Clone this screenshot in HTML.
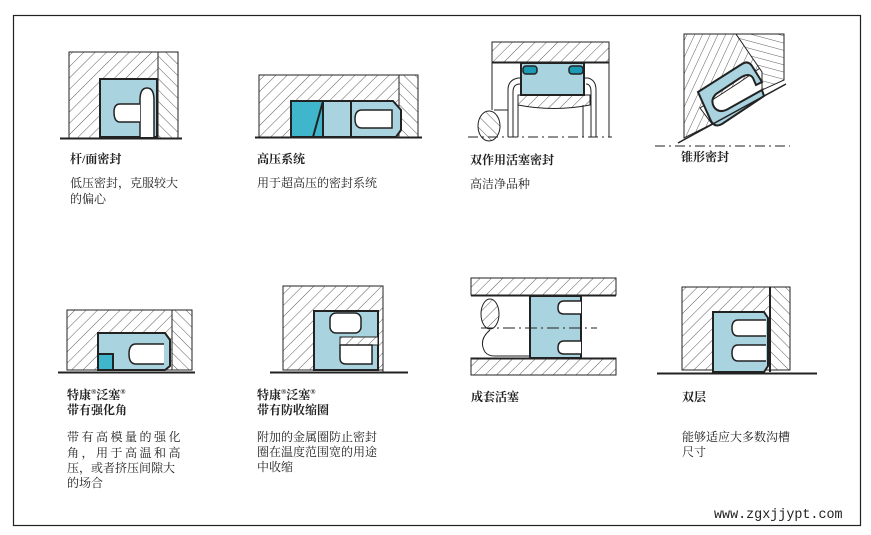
<!DOCTYPE html>
<html><head><meta charset="utf-8"><style>
html,body{margin:0;padding:0;background:#fff;width:871px;height:535px;overflow:hidden}
svg{display:block}
text{font-family:"Liberation Serif","Noto Serif CJK SC","Noto Sans CJK SC",serif;fill:#222}
.t{font-size:12px;font-weight:bold}
.d{font-size:12px}
</style></head><body>
<svg width="871" height="535" viewBox="0 0 871 535" xmlns="http://www.w3.org/2000/svg">
<defs>
<pattern id="h" patternUnits="userSpaceOnUse" width="8" height="8" patternTransform="rotate(45)">
<rect width="8" height="8" fill="#fff"/><line x1="0" y1="0" x2="0" y2="8" stroke="#333" stroke-width="0.8"/></pattern>
<pattern id="h2" patternUnits="userSpaceOnUse" width="8" height="8" patternTransform="rotate(-45)">
<rect width="8" height="8" fill="#fff"/><line x1="0" y1="0" x2="0" y2="8" stroke="#333" stroke-width="0.8"/></pattern>
<pattern id="h3" patternUnits="userSpaceOnUse" width="7" height="7" patternTransform="rotate(-75)">
<rect width="7" height="7" fill="#fff"/><line x1="0" y1="0" x2="0" y2="7" stroke="#333" stroke-width="0.8"/></pattern>
<pattern id="h4" patternUnits="userSpaceOnUse" width="7" height="7" patternTransform="rotate(25)">
<rect width="7" height="7" fill="#fff"/><line x1="0" y1="0" x2="0" y2="7" stroke="#333" stroke-width="0.8"/></pattern>
</defs>
<rect x="13.5" y="15.5" width="847" height="510" fill="none" stroke="#222" stroke-width="1.2"/>
<g stroke="#222" stroke-width="1" fill="none">
<!-- Panel 1 -->
<rect x="69" y="52" width="89" height="86" fill="url(#h)"/>
<rect x="158" y="52" width="20" height="86" fill="url(#h2)"/>
<rect x="100" y="79" width="57" height="58" fill="#a9d3df" stroke-width="2"/>
<path d="M140 137 V100 Q140 88 147 88 Q154 88 154 100 V137" fill="#fff" stroke-width="1.5"/>
<path d="M140 104 H120 Q114 104 114 112 Q114 122 120 122 H140" fill="#fff" stroke-width="1.5"/>
<line x1="60" y1="138.5" x2="182" y2="138.5" stroke-width="2"/>
<!-- Panel 2 -->
<rect x="259" y="75" width="140" height="62" fill="url(#h)"/>
<rect x="399" y="75" width="19" height="62" fill="url(#h2)"/>
<rect x="291" y="101" width="32" height="36" fill="#3fb6cc" stroke-width="2"/>
<path d="M323 101 L313 137" stroke-width="2"/>
<rect x="323" y="101" width="28" height="36" fill="#a9d3df" stroke-width="2"/>
<path d="M351 101 H393 L401 110 V130 L396 137 H351 Z" fill="#a9d3df" stroke-width="2"/>
<path d="M392 110 H362 Q355 110 355 119 Q355 128 362 128 H392 Z" fill="#fff" stroke-width="1.5"/>
<line x1="255" y1="137.5" x2="422" y2="137.5" stroke-width="2"/>
<!-- Panel 3 -->
<rect x="492" y="42" width="117" height="20" fill="url(#h)"/>
<line x1="492" y1="62.5" x2="609" y2="62.5" stroke-width="2"/>
<line x1="492" y1="62" x2="492" y2="110"/><line x1="609" y1="62" x2="609" y2="137"/>
<path d="M508 137 V90 Q508 80 518 78 H588 Q596 80 596 90 V137"/>
<path d="M513 137 V92 Q513 84 520 84"/><path d="M591 137 V92 Q591 84 586 84"/>
<path d="M518 95 H590 V105 Q554 112 518 105 Z" fill="url(#h)"/>
<line x1="518" y1="137" x2="518" y2="105"/><line x1="583" y1="137" x2="583" y2="105"/>
<rect x="521" y="63" width="63" height="32" fill="#a9d3df" stroke-width="2"/>
<rect x="523" y="66" width="14" height="8" rx="3" fill="#1a9bb3" stroke-width="1.5"/>
<rect x="569" y="66" width="14" height="8" rx="3" fill="#1a9bb3" stroke-width="1.5"/>
<path d="M494 110 H508"/>
<ellipse cx="489" cy="126" rx="11" ry="15" fill="url(#h2)"/>
<line x1="468" y1="137" x2="612" y2="137" stroke-dasharray="10 4 2 4"/>
<!-- Panel 4 -->
<path d="M684 34 H736 L760 68 L740 82 L700 108 L712 124 L684 138 Z" fill="url(#h4)"/>
<path d="M736 34 H784 V80 L762 90 V72 Z" fill="url(#h3)"/>
<path d="M698 92 L742 64 Q748 60 752 66 L762 82 L756 85 L753 78 Q749 72 740 78 L716 94 Q710 100 714 107 Q719 114 728 109 L762 90 L764 96 L722 124 Q715 128 711 121 Z" fill="#a9d3df" stroke-width="2"/>
<line x1="678" y1="143" x2="786" y2="84" stroke-width="1.5"/>
<line x1="655" y1="146" x2="790" y2="146" stroke-dasharray="10 4 2 4"/>
<!-- Panel 5 -->
<rect x="67" y="310" width="105" height="60" fill="url(#h)"/>
<rect x="172" y="310" width="20" height="60" fill="url(#h2)"/>
<path d="M98 333 H165 L170 340 V366 L165 370 H98 Z" fill="#a9d3df" stroke-width="2"/>
<path d="M164 344 H136 Q129 344 129 354 Q129 364 136 364 H164" fill="#fff" stroke-width="1.5"/>
<rect x="98" y="354" width="15" height="16" fill="#3fb6cc" stroke-width="2"/>
<line x1="58" y1="372.5" x2="195" y2="372.5" stroke-width="2"/>
<!-- Panel 6 -->
<rect x="283" y="286" width="100" height="84" fill="url(#h)"/>
<rect x="314" y="311" width="64" height="59" fill="#a9d3df" stroke-width="2"/>
<rect x="330" y="313" width="31" height="20" rx="6" fill="#fff" stroke-width="1.5"/>
<rect x="340" y="337" width="38" height="8" fill="url(#h)"/>
<path d="M340 345 H372 V364 H346 Q340 364 340 358 Z" fill="#fff" stroke-width="1.5"/>
<line x1="383" y1="311" x2="383" y2="372"/>
<line x1="270" y1="372.5" x2="408" y2="372.5" stroke-width="2"/>
<!-- Panel 7 -->
<rect x="471" y="278" width="145" height="17" fill="url(#h)"/>
<rect x="471" y="358" width="145" height="17" fill="url(#h)"/>
<line x1="471" y1="295.5" x2="616" y2="295.5" stroke-width="2"/>
<line x1="471" y1="358.5" x2="616" y2="358.5" stroke-width="2"/>
<rect x="530" y="296" width="51" height="62" fill="#a9d3df" stroke-width="2"/>
<path d="M581 301 H564 Q558 301 558 308 Q558 314 564 314 H581" fill="#fff" stroke-width="1.5"/>
<path d="M581 341 H564 Q558 341 558 348 Q558 354 564 354 H581" fill="#fff" stroke-width="1.5"/>
<ellipse cx="490" cy="314" rx="9" ry="15" fill="url(#h)"/>
<path d="M490 330 Q478 340 485 352 Q488 356 495 356 H530"/>
<line x1="481" y1="328" x2="597" y2="328" stroke-dasharray="12 4 2 4"/>
<!-- Panel 8 -->
<rect x="682" y="287" width="88" height="83" fill="url(#h)"/>
<rect x="770" y="287" width="20" height="83" fill="url(#h2)"/>
<line x1="770" y1="287" x2="770" y2="372" stroke-width="2"/>
<path d="M713 312 H764 L768 318 V366 L764 372 H713 Z" fill="#a9d3df" stroke-width="2"/>
<path d="M766 320 H738 Q732 320 732 328 Q732 336 738 336 H766" fill="#fff" stroke-width="1.5"/>
<path d="M766 345 H738 Q732 345 732 353 Q732 361 738 361 H766" fill="#fff" stroke-width="1.5"/>
<line x1="657" y1="373.5" x2="817" y2="373.5" stroke-width="2"/>
</g>
<text class="t" x="70" y="163">杆/面密封</text>
<text class="d" x="70" y="187">低压密封，克服较大</text>
<text class="d" x="70" y="203">的偏心</text>
<text class="t" x="257" y="163">高压系统</text>
<text class="d" x="257" y="187">用于超高压的密封系统</text>
<text class="t" x="470" y="164">双作用活塞密封</text>
<text class="d" x="470" y="188">高洁净品种</text>
<text class="t" x="681" y="161">锥形密封</text>
<text class="t" x="67" y="399">特康<tspan font-size="7" dy="-5">®</tspan><tspan dy="5">泛塞</tspan><tspan font-size="7" dy="-5">®</tspan></text>
<text class="t" x="67" y="414">带有强化角</text>
<text class="d" x="67" y="441" letter-spacing="2.5">带有高模量的强化</text>
<text class="d" x="67" y="457" letter-spacing="2.5">角，用于高温和高</text>
<text class="d" x="67" y="472">压，或者挤压间隙大</text>
<text class="d" x="67" y="487">的场合</text>
<text class="t" x="257" y="399">特康<tspan font-size="7" dy="-5">®</tspan><tspan dy="5">泛塞</tspan><tspan font-size="7" dy="-5">®</tspan></text>
<text class="t" x="257" y="414">带有防收缩圈</text>
<text class="d" x="257" y="441">附加的金属圈防止密封</text>
<text class="d" x="257" y="456">圈在温度范围宽的用途</text>
<text class="d" x="257" y="471">中收缩</text>
<text class="t" x="471" y="401">成套活塞</text>
<text class="t" x="682" y="401">双层</text>
<text class="d" x="682" y="441">能够适应大多数沟槽</text>
<text class="d" x="682" y="456">尺寸</text>
<text x="714" y="518" style="font-family:'Liberation Mono',monospace;font-size:13.4px">www.zgxjjypt.com</text>
</svg>
</body></html>
